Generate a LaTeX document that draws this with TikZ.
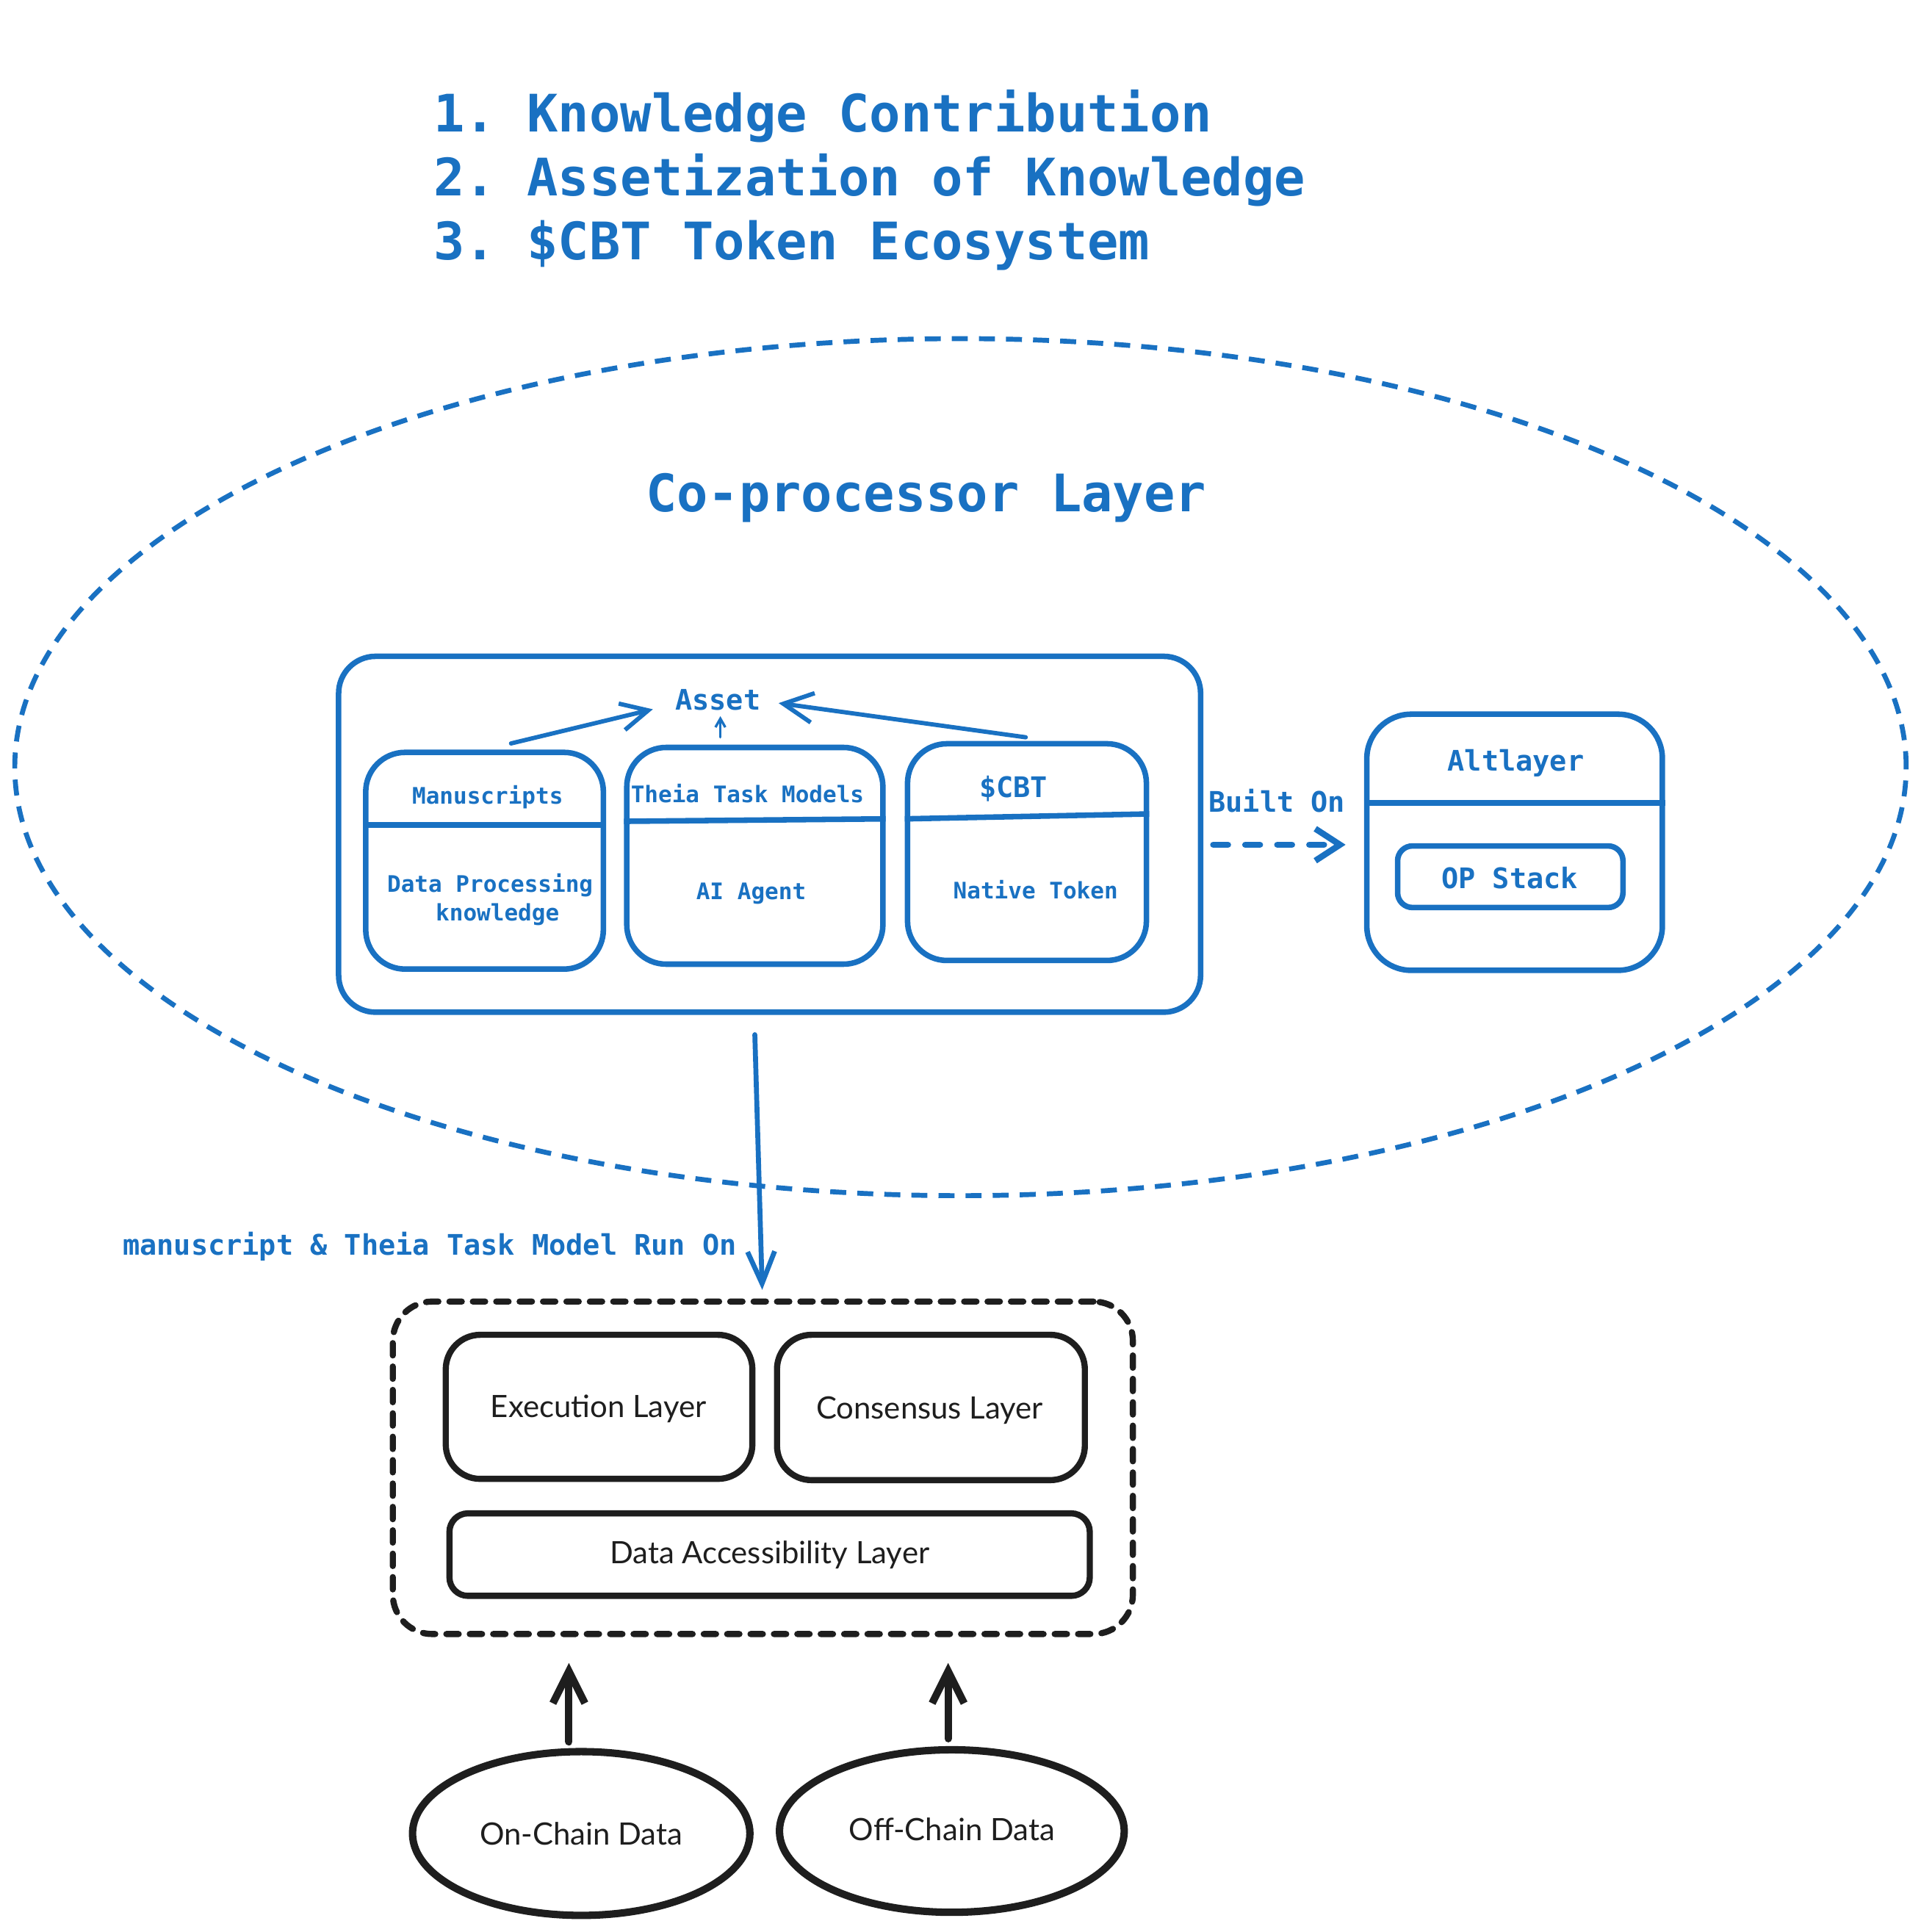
\documentclass[tikz,border=0pt]{standalone}
\usepackage{fontspec}
\setmonofont{DejaVu Sans Mono}
\newfontfamily\handfont{Lato}
\usetikzlibrary{shapes.geometric,arrows.meta,calc}
\definecolor{exblue}{HTML}{1971C2}
\definecolor{exblack}{HTML}{1E1E1E}
\begin{document}
\begin{tikzpicture}[x=1pt,y=-1pt,
  bluebox/.style={draw=exblue, line width=4.5pt, rounded corners=30pt, inner sep=0pt, rectangle},
  blkbox/.style={draw=exblack, line width=5pt, rounded corners=28pt, inner sep=0pt, rectangle},
  divider/.style={draw=exblue, line width=4.5pt},
  mono/.style={inner sep=0pt, text height={0.73*#1pt}, text depth=0pt, text=exblue, font=\ttfamily\bfseries\fontsize{#1}{#1}\selectfont},
  hand/.style={inner sep=0pt, text height=18pt, text depth=0pt, text=exblack, font=\handfont\fontsize{25}{25}\selectfont},
  titletxt/.style={anchor=base west, inner sep=0pt, text=exblue, font=\ttfamily\bfseries\fontsize{42}{42}\selectfont},
  bluearrow/.style={draw=exblue, line width=#1, line cap=round, line join=round},
  blackarrow/.style={draw=exblack, line width=6pt, line cap=round, line join=round,
    -{Straight Barb[length=26pt,width=26pt,line width=6pt]}},
]
\path[use as bounding box, fill=white] (0,0) rectangle (1560,1569);

% title
\node[titletxt] (t1) at (352,107) {1. Knowledge Contribution};
\node[titletxt] (t2) at (352,159) {2. Assetization of Knowledge};
\node[titletxt] (t3) at (352,211) {3. \$CBT Token Ecosystem};

% co-processor ellipse
\node[ellipse, draw=exblue, line width=4pt, dash pattern=on 13pt off 9pt, minimum width=1536pt, minimum height=696pt, inner sep=0pt] (coproc) at (780,623) {};
\node[mono=42] (coproclbl) at (752,400) {Co-processor Layer};

% big box
\node[bluebox, minimum width=700pt, minimum height=289pt] (big) at (625,677.5) {};

% sub boxes
\node[bluebox, rounded corners=32pt, minimum width=193pt, minimum height=176pt] (man) at (393.5,699) {};
\draw[divider] (man.west |- 0,670) -- (man.east |- 0,670);
\node[mono=18.5] (mant) at (396,646) {Manuscripts};
\node[mono=18.5] (mand1) at (398,718) {Data Processing};
\node[mono=18.5] (mand2) at (404,741) {knowledge};

\node[bluebox, rounded corners=32pt, minimum width=208pt, minimum height=176pt] (theia) at (613,695) {};
\draw[divider] (theia.west |- 0,667) -- (theia.east |- 0,665);
\node[mono=18.5] (theiat) at (607,645) {Theia Task Models};
\node[mono=18.5] (theiad) at (610,724) {AI Agent};

\node[bluebox, rounded corners=32pt, minimum width=194pt, minimum height=176pt] (cbt) at (834,692) {};
\draw[divider] (cbt.west |- 0,665) -- (cbt.east |- 0,661);
\node[mono=23] (cbtt) at (823,639) {\$CBT};
\node[mono=18.5] (cbtd) at (841,723) {Native Token};

% asset
\node[mono=23] (asset) at (583,568) {Asset};
\draw[bluearrow=3.5pt, -{Straight Barb[length=22pt,width=22pt,line width=3.5pt]}] ($(man.north)+(21.5,-5)$) -- ($(asset.west)+(-18,8)$);
\draw[bluearrow=2pt, -{Straight Barb[length=7pt,width=8pt,line width=2pt]}] ($(theia.north)+(-28,-6)$) -- ($(asset.south)+(2,5)$);
\draw[bluearrow=3.5pt, -{Straight Barb[length=24pt,width=24pt,line width=3.5pt]}] ($(cbt.north)+(-1,-3)$) -- ($(asset.east)+(14.5,3)$);

% altlayer
\node[bluebox, rounded corners=36pt, minimum width=240pt, minimum height=208pt] (alt) at (1230,684) {};
\draw[divider] (alt.west |- 0,652) -- (alt.east |- 0,652);
\node[mono=23] (altt) at (1231,618) {Altlayer};
\node[bluebox, rounded corners=12pt, minimum width=183pt, minimum height=50pt] (op) at (1226.5,712) {};
\node[mono=23] (opt) at (1226,713) {OP Stack};

% built on
\draw[bluearrow=5pt, dash pattern=on 12pt off 14pt, -{Straight Barb[length=20pt,width=26pt,line width=5pt]}] ($(big.east)+(8,8.5)$) -- ($(alt.west)+(-15,2)$);
\node[mono=23] (builton) at (1037,651) {Built On};

% dashed black container
\node[draw=exblack, line width=5pt, dash pattern=on 10pt off 9pt, line cap=round, rounded corners=32pt, minimum width=601pt, minimum height=270pt, inner sep=0pt] (dash) at (619.5,1192) {};
\node[blkbox, minimum width=249pt, minimum height=117pt] (exec) at (486.5,1142.5) {};
\node[hand] (exect) at (486,1142) {Execution Layer};
\node[blkbox, minimum width=250pt, minimum height=118pt] (cons) at (756,1143) {};
\node[hand] (const) at (755,1143) {Consensus Layer};
\node[blkbox, rounded corners=15pt, minimum width=520pt, minimum height=67pt] (dal) at (625,1262.5) {};
\node[hand] (dalt) at (625,1261) {Data Accessibility Layer};

% run on arrow
\draw[bluearrow=4pt, -{Straight Barb[length=26pt,width=22pt,line width=4pt]}] ($(big.south)+(-12,16)$) -- ($(dash.north)+(-0.5,-7)$);
\node[mono=23] (runon) at (349,1011) {manuscript \& Theia Task Model Run On};

% data ellipses
\node[ellipse, draw=exblack, line width=6pt, minimum width=274pt, minimum height=133pt, inner sep=0pt] (on) at (472,1489) {};
\node[hand] (ont) at (472,1489) {On-Chain Data};
\node[ellipse, draw=exblack, line width=6pt, minimum width=280pt, minimum height=132pt, inner sep=0pt] (off) at (773,1487) {};
\node[hand] (offt) at (773,1486) {Off-Chain Data};

\draw[blackarrow] ($(on.north)+(-10,-5)$) -- ($(on.north |- dash.south)+(-10,21)$);
\draw[blackarrow] ($(off.north)+(-3,-6)$) -- ($(off.north |- dash.south)+(-3,21)$);
\end{tikzpicture}
\end{document}
